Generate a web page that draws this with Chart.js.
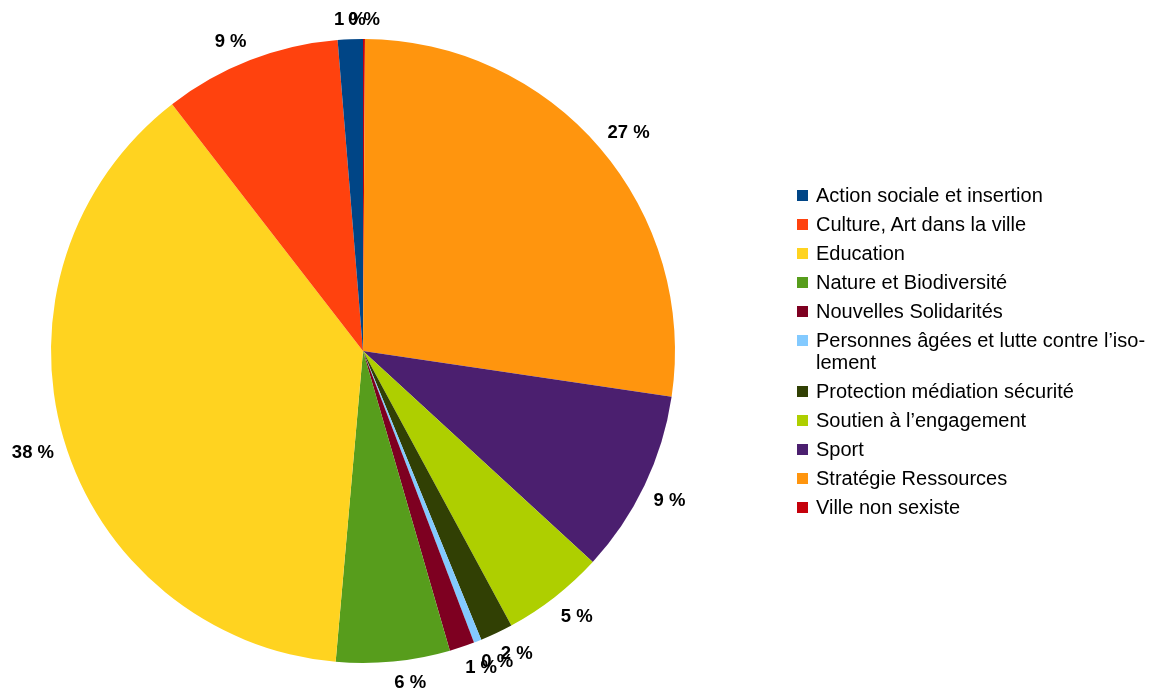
<!DOCTYPE html>
<html>
<head>
<meta charset="utf-8">
<script src="https://cdn.jsdelivr.net/npm/chart.js@4/dist/chart.umd.min.js"></script>
<style>
    html, body { margin: 0; padding: 0; background: #fff; }
    #wrap { position: relative; width: 1167px; height: 698px; }
    #legend {
        position: absolute; left: 797px; top: 184px;
        font-family: "Liberation Sans", Arial, sans-serif; font-size: 20px; color: #000;
    }
    .row { position: relative; padding-left: 19px; line-height: 22px; margin-bottom: 7px; width: 360px; }
    .box { position: absolute; left: 0; top: 6px; width: 11px; height: 11px; }
</style>
</head>
<body>
<div id="wrap">
    <canvas id="chart" width="1167" height="698"></canvas>
    <div id="legend"></div>
</div>
<script>
// categories in legend order (slices run counterclockwise from the top in this order)
var categories = [
    'Action sociale et insertion',
    'Culture, Art dans la ville',
    'Education',
    'Nature et Biodiversité',
    'Nouvelles Solidarités',
    'Personnes âgées et lutte contre l\u2019iso-\nlement',
    'Protection médiation sécurité',
    'Soutien à l\u2019engagement',
    'Sport',
    'Stratégie Ressources',
    'Ville non sexiste'
];
var shares = [1.3, 9.2, 38.2, 5.9, 1.3, 0.4, 1.7, 5.3, 9.5, 27.3, 0.1];
var colors = ['#004586', '#ff420e', '#ffd320', '#579d1c', '#7e0021', '#83caff',
              '#314004', '#aecf00', '#4b1f6f', '#ff950e', '#c5000b'];

// legend
var legend = document.getElementById('legend');
for (var i = 0; i < categories.length; i++) {
    var row = document.createElement('div');
    row.className = 'row';
    var box = document.createElement('span');
    box.className = 'box';
    box.style.background = colors[i];
    row.appendChild(box);
    var lines = categories[i].split('\n');
    for (var j = 0; j < lines.length; j++) {
        if (j > 0) row.appendChild(document.createElement('br'));
        row.appendChild(document.createTextNode(lines[j]));
    }
    legend.appendChild(row);
}

// Chart.js goes clockwise, so feed it the reversed order
var drawData = shares.slice().reverse();
var drawColors = colors.slice().reverse();
var total = shares.reduce(function (a, b) { return a + b; }, 0);

// percentage labels outside the pie: the text box corner facing the centre
// sits on a circle just outside the slices, centred when the slice is near an axis
var outsideLabels = {
    id: 'outsideLabels',
    afterDatasetsDraw: function (chart) {
        var ctx = chart.ctx;
        var meta = chart.getDatasetMeta(0);
        var fs = 18.5;
        var asc = fs * 0.905, desc = fs * 0.212;
        ctx.save();
        ctx.font = 'bold ' + fs + 'px "Liberation Sans", Arial, sans-serif';
        ctx.fillStyle = '#000';
        ctx.textBaseline = 'alphabetic';
        ctx.textAlign = 'left';
        meta.data.forEach(function (arc, k) {
            var txt = Math.round(drawData[k] / total * 100) + ' %';
            var a = (arc.startAngle + arc.endAngle) / 2;
            var c = Math.cos(a), s = Math.sin(a);
            var r = arc.outerRadius + 10;
            var px = arc.x + c * r, py = arc.y + s * r;
            var w = ctx.measureText(txt).width;
            var h = asc + desc;
            var left, top;
            if (Math.abs(c) < 0.06) left = px - w / 2;
            else left = c > 0 ? px : px - w;
            if (Math.abs(s) < 0.06) top = py - h / 2;
            else top = s > 0 ? py : py - h;
            ctx.fillText(txt, left, top + asc);
        });
        ctx.restore();
    }
};

new Chart(document.getElementById('chart'), {
    type: 'pie',
    data: {
        labels: categories.slice().reverse(),
        datasets: [{
            data: drawData,
            backgroundColor: drawColors,
            borderWidth: 0
        }]
    },
    options: {
        responsive: false,
        animation: false,
        layout: { padding: { left: 51, right: 492, top: 39, bottom: 35 } },
        plugins: {
            legend: { display: false },
            tooltip: { enabled: false }
        }
    },
    plugins: [outsideLabels]
});
</script>
</body>
</html>
